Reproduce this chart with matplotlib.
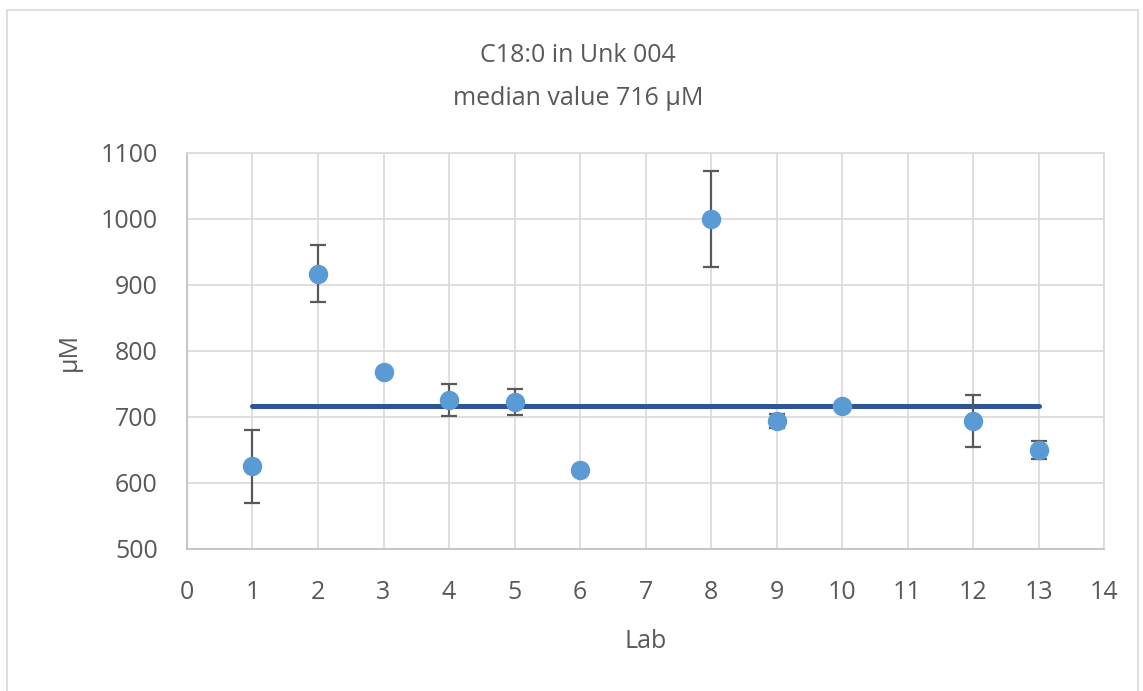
import matplotlib
matplotlib.use("Agg")
import matplotlib.pyplot as plt
import matplotlib.ticker as ticker
from matplotlib.patches import Rectangle

# Data
labs = [1, 2, 3, 4, 5, 6, 8, 9, 10, 12, 13]
values = [625, 917, 768, 726, 723, 620, 1000, 694, 716, 694, 650]
errors = [55, 43, 0, 24, 20, 0, 72, 10, 0, 40, 13]
median = 716
median_x = [1, 13]

plt.rcParams['font.family'] = ['Open Sans', 'DejaVu Sans']
text_col = '#595959'

fig = plt.figure(figsize=(11.43, 6.91), dpi=100)
ax = fig.add_axes([0.1636, 0.2055, 0.8023, 0.5731])

# outer chart border
fig.patches.append(Rectangle((0.006, -0.01), 0.99, 0.995, transform=fig.transFigure,
                             fill=False, edgecolor='#D9D9D9', linewidth=1.2))

ax.plot(median_x, [median, median], color='#2F5597', linewidth=3.6,
        solid_capstyle='round', zorder=3)
ax.errorbar(labs, values, yerr=errors, fmt='o', color='#5B9BD5', markersize=13,
            ecolor='#595959', elinewidth=1.6, capsize=6, capthick=1.6, zorder=4)

ax.set_xlim(0, 14)
ax.set_ylim(500, 1100)
ax.xaxis.set_major_locator(ticker.MultipleLocator(1))
ax.yaxis.set_major_locator(ticker.MultipleLocator(100))
ax.grid(color='#D9D9D9', linewidth=1.2)
ax.set_axisbelow(True)
for s in ['top', 'right']:
    ax.spines[s].set_color('#D9D9D9')
for s in ['left', 'bottom']:
    ax.spines[s].set_color('#BFBFBF')
for s in ax.spines.values():
    s.set_linewidth(1.2)
ax.tick_params(length=0, labelsize=18, colors=text_col)
ax.tick_params(axis='y', pad=21)
ax.tick_params(axis='x', pad=22)

# titles and axis labels placed in figure coordinates
fig.text(0.506, 0.920, 'C18:0 in Unk 004', fontsize=18, color=text_col,
         ha='center', va='center')
fig.text(0.506, 0.858, 'median value 716 µM', fontsize=18, color=text_col,
         ha='center', va='center')
fig.text(0.565, 0.072, 'Lab', fontsize=18, color=text_col, ha='center', va='center')
fig.text(0.061, 0.491, 'µM', fontsize=18, color=text_col, ha='center', va='center',
         rotation=90)

fig.savefig('out.png', dpi=100)
